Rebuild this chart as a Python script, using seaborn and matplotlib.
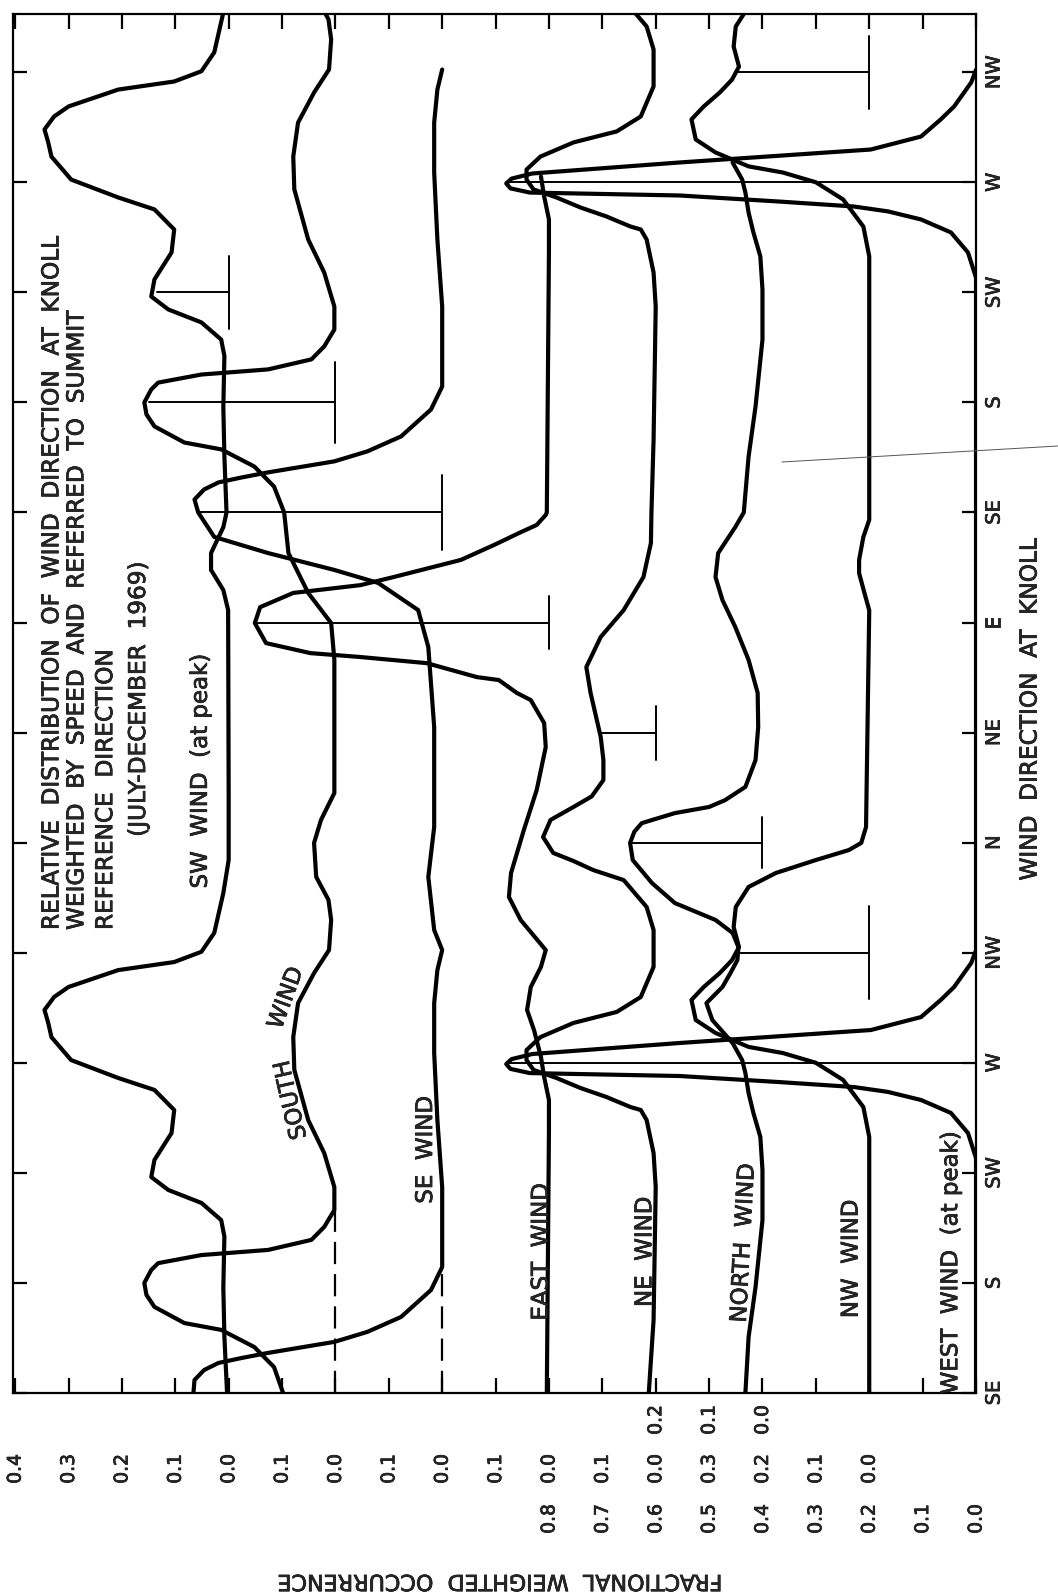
import numpy as np
import pandas as pd
import matplotlib
matplotlib.use("Agg")
import matplotlib.pyplot as plt
import matplotlib.patheffects as pe
import seaborn as sns
from matplotlib.lines import Line2D

# ------------------------------------------------------------------ data
DIR_TICKS = [135, 180, 225, 270, 315, 360, 405, 450, 495, 540, 585, 630, 675]
DIR_LABELS = ["SE", "S", "SW", "W", "NW", "N", "NE", "E", "SE", "S", "SW", "W", "NW"]

CURVES = ["WEST", "NW", "NORTH", "NE", "EAST", "SE", "SOUTH", "SW"]
OFFSETS = [0.0, 0.2, 0.4, 0.6, 0.8, 1.0, 1.2, 1.4]          # zero line of each curve
SCALE_MAX = [0.8, 0.3, 0.2, 0.1, 0.1, 0.1, 0.1, 0.4]        # labelled scale of each curve
SCALE_ROW = [2, 1, 0, 1, 1, 1, 1, 1]                        # row of its tick labels
PEAK_VALUES = [0.88, 0.25, 0.248, 0.107, 0.55, 0.46, 0.35, 0.135]
END_DIRS = [720, 720, 639, 720, 634, 677, 720, 720]         # where the repeated cycle stops

# one revolution of each curve (direction in degrees, fractional weighted occurrence)
west_dir = [135, 231, 241.3, 249.5, 254.8, 258.1, 260.1, 262.1, 264.6, 265.8, 267.5, 269.5,
            271.5, 273.6, 278.1, 283.4, 288.7, 295.7, 301.0, 310.8, 316.0, 495]
west_val = [0.0, 0.0, 0.015, 0.047, 0.103, 0.165, 0.229, 0.367, 0.555, 0.836, 0.872, 0.880,
            0.870, 0.831, 0.555, 0.197, 0.103, 0.066, 0.041, 0.009, 0.0, 0.0]

nw_dir = [135, 239.7, 251.9, 263.0, 270.0, 274.0, 276.5, 282.2, 287.5, 295.7, 301.0, 306.7,
          312.0, 317.3, 325.5, 333.7, 341.9, 347.6, 352.9, 357.0, 359.9, 366.4, 455.0, 462.1,
          470.2, 475.6, 485.0, 492.0, 495]
nw_val = [0.0, 0.0, 0.011, 0.049, 0.100, 0.162, 0.226, 0.288, 0.325, 0.333, 0.310, 0.280,
          0.257, 0.244, 0.254, 0.250, 0.226, 0.175, 0.100, 0.038, 0.015, 0.006, 0.0, 0.009,
          0.019, 0.019, 0.011, 0.0, 0.0]

north_dir = [135, 157.9, 178.3, 205.7, 226.2, 239.7, 249.5, 257.6, 265.8, 271.1, 278.1, 287.5,
             294.4, 301.0, 306.7, 312.0, 317.3, 323.1, 328.4, 335.3, 343.5, 352.9, 359.9, 364.5,
             368.0, 372.1, 374.6, 377.4, 382.8, 393.8, 407.3, 421.2, 434.7, 448.2, 459.2, 468.6,
             478.4, 489.0, 495]
north_val = [0.032, 0.026, 0.013, 0.0, 0.0, 0.004, 0.017, 0.026, 0.032, 0.038, 0.056, 0.094,
             0.105, 0.075, 0.060, 0.047, 0.045, 0.056, 0.088, 0.164, 0.207, 0.243, 0.248, 0.240,
             0.226, 0.164, 0.100, 0.070, 0.032, 0.013, 0.008, 0.009, 0.026, 0.051, 0.075, 0.088,
             0.083, 0.051, 0.035]

ne_dir = [135, 164.8, 219.2, 233.1, 246.6, 250.7, 251.9, 254.8, 256.0, 259.7, 263.8, 267.1,
          271.1, 275.2, 280.5, 286.3, 290.8, 296.9, 309.2, 324.3, 333.7, 344.7, 348.8, 352.5,
          355.8, 362.3, 369.3, 374.6, 378.9, 385.6, 393.8, 403.2, 421.2, 431.8, 444.1, 455.1,
          468.6, 482.5, 495]
ne_val = [0.013, 0.004, 0.0, 0.004, 0.017, 0.028, 0.047, 0.079, 0.092, 0.141, 0.186, 0.229,
          0.242, 0.242, 0.216, 0.154, 0.073, 0.028, 0.004, 0.004, 0.017, 0.060, 0.117, 0.154,
          0.192, 0.211, 0.197, 0.154, 0.120, 0.098, 0.098, 0.103, 0.122, 0.130, 0.103, 0.060,
          0.023, 0.009, 0.008]

east_dir = [135, 242.5, 254.8, 264.2, 272.4, 283.4, 291.6, 301.0, 309.2, 316.1, 328.4, 337.8,
            347.6, 365.2, 381.5, 399.1, 408.9, 418.3, 421.2, 426.5, 427.7, 433.4, 435.9, 437.5,
            441.6, 449.8, 456.3, 462.1, 465.3, 468.6, 475.6, 481.7, 486.6, 489.9, 494.0, 495]
east_val = [0.004, 0.0, 0.0, 0.009, 0.015, 0.028, 0.041, 0.034, 0.015, 0.006, 0.053, 0.075,
            0.071, 0.047, 0.023, 0.006, 0.009, 0.034, 0.060, 0.094, 0.135, 0.229, 0.353, 0.447,
            0.530, 0.551, 0.541, 0.479, 0.353, 0.291, 0.165, 0.103, 0.056, 0.023, 0.006, 0.004]

se_dir = [135, 140.3, 144.4, 147.3, 149.3, 151.4, 155.9, 160.0, 166.1, 177.1, 186.5, 219.2,
          246.6, 274.0, 294.4, 307.9, 316.1, 324.3, 346.0, 366.4, 407.3, 440.0, 455.1, 466.2,
          471.5, 478.4, 485.0, 495]
se_val = [0.466, 0.464, 0.446, 0.419, 0.376, 0.326, 0.202, 0.140, 0.077, 0.021, 0.0, 0.0,
          0.009, 0.015, 0.015, 0.009, 0.0, 0.015, 0.026, 0.015, 0.015, 0.026, 0.045, 0.120,
          0.202, 0.326, 0.427, 0.457]

south_dir = [135, 145.6, 153.8, 160.8, 163.6, 170.2, 175.1, 180.0, 185.3, 188.1, 191.4, 193.5,
             197.6, 202.9, 209.8, 219.2, 233.1, 246.6, 267.1, 280.5, 294.4, 306.7, 316.1, 328.4,
             336.6, 346.0, 359.9, 369.3, 380.3, 434.7, 449.8, 462.1, 478.4, 495]
south_val = [0.098, 0.115, 0.152, 0.214, 0.283, 0.339, 0.354, 0.358, 0.345, 0.332, 0.251, 0.126,
             0.045, 0.021, 0.002, 0.002, 0.021, 0.051, 0.077, 0.079, 0.070, 0.040, 0.012, 0.008,
             0.013, 0.036, 0.040, 0.027, 0.002, 0.002, 0.008, 0.051, 0.088, 0.096]

sw_dir = [135, 158, 178, 199, 205.7, 212.7, 218.0, 223.3, 230.3, 241.3, 250.7, 258.9, 263.8,
          271.1, 280.5, 286.3, 291.6, 296.9, 301.0, 307.9, 311.2, 315.4, 323.1, 339.4, 352.9,
          380.3, 455.1, 463.3, 471.5, 478.4, 489.0, 495]
sw_val = [0.003, 0.008, 0.010, 0.008, 0.014, 0.051, 0.113, 0.145, 0.139, 0.107, 0.102, 0.139,
          0.207, 0.295, 0.332, 0.338, 0.345, 0.327, 0.300, 0.207, 0.102, 0.051, 0.027, 0.010,
          0.0, 0.0, 0.001, 0.010, 0.033, 0.033, 0.010, 0.004]

SERIES = {"WEST": (west_dir, west_val), "NW": (nw_dir, nw_val), "NORTH": (north_dir, north_val),
          "NE": (ne_dir, ne_val), "EAST": (east_dir, east_val), "SE": (se_dir, se_val),
          "SOUTH": (south_dir, south_val), "SW": (sw_dir, sw_val)}

# peak markers: (curve, direction, half length of the cap in degrees)
MARKERS = [("WEST", 270, 0), ("WEST", 630, 0), ("NW", 315, 19), ("NW", 675, 15),
           ("NORTH", 360, 10.5), ("NE", 405, 11), ("EAST", 450, 11), ("SE", 495, 15.5),
           ("SOUTH", 540, 16.5), ("SW", 585, 15)]
DASHED = [("SOUTH", 135, 210), ("SE", 135, 184)]

TITLE_LINES = ["RELATIVE  DISTRIBUTION  OF  WIND  DIRECTION  AT  KNOLL",
               "WEIGHTED  BY  SPEED  AND  REFERRED  TO  SUMMIT",
               "REFERENCE  DIRECTION",
               "(JULY-DECEMBER  1969)"]
TITLE_POS = [(1.7312, 324.3), (1.6845, 324.3), (1.6304, 324.3), (1.5688, 362.4)]

CURVE_LABELS = [("SW  WIND  (at peak)", 1.4531, 389.2, 90),
                ("SOUTH", 1.2832, 254.8, 103),
                ("WIND", 1.2926, 296.5, 70),
                ("SE  WIND", 1.0312, 234.4, 90),
                ("EAST  WIND", 0.8147, 192.7, 90),
                ("NE  WIND", 0.6205, 192.7, 90),
                ("NORTH  WIND", 0.4357, 196.3, 87),
                ("NW  WIND", 0.2341, 189.8, 90),
                ("WEST  WIND  (at peak)", 0.0474, 188.2, 90)]

# ------------------------------------------------------------------ figure
sns.set_style("ticks")
plt.rcParams["font.family"] = ["DejaVu Sans"]
plt.rcParams["axes.linewidth"] = 1.6
plt.rcParams["lines.solid_joinstyle"] = "round"
plt.rcParams["lines.solid_capstyle"] = "round"

INK = [pe.withStroke(linewidth=0.5, foreground="black")]

W, H = 1058, 1595
fig = plt.figure(figsize=(W / 100, H / 100), dpi=100, facecolor="white")
ax = fig.add_axes([13 / W, (H - 1393) / H, 963 / W, 1379 / H])
ax.set_facecolor("white")

for name, off, end in zip(CURVES, OFFSETS, END_DIRS):
    d, v = SERIES[name]
    d = np.asarray(d, float)
    v = np.asarray(v, float)
    dd = np.concatenate([d, d[1:] + 360.0])
    vv = np.concatenate([v, v[1:]])
    keep = dd <= end
    df = pd.DataFrame({"direction": dd[keep], "position": off + vv[keep]})
    sns.lineplot(data=df, x="position", y="direction", orient="y", sort=False,
                 estimator=None, color="black", linewidth=3.0, ax=ax)
for ln in ax.get_lines():
    ln.set_solid_joinstyle("round")
    ln.set_solid_capstyle("round")

for name, dmark, cap in MARKERS:
    i = CURVES.index(name)
    off, pk = OFFSETS[i], PEAK_VALUES[i]
    ax.plot([off + pk, off], [dmark, dmark], color="black", lw=1.4)
    if cap > 0:
        ax.plot([off, off], [dmark - cap, dmark + cap], color="black", lw=1.4)

for name, d0, d1 in DASHED:
    off = OFFSETS[CURVES.index(name)]
    ax.plot([off, off], [d0, d1], color="black", lw=1.6, linestyle=(0, (10, 4.5)))

ax.set_xlim(1.804, 0.0063)
ax.set_ylim(135, 698.8)

ax.set_xticks(np.round(np.arange(0, 1.81, 0.1), 2))
ax.set_yticks(DIR_TICKS)
ax.set_yticklabels(DIR_LABELS)
ax.tick_params(axis="x", direction="in", top=True, bottom=True, labelbottom=False,
               length=11, width=1.6, color="black")
ax.tick_params(axis="y", direction="in", left=True, right=True, labelleft=False,
               labelright=True, length=10, width=1.6, pad=13, labelsize=14, color="black")
for lab in ax.get_yticklabels():
    lab.set_rotation(90)
    lab.set_ha("center")
    lab.set_va("center")
    lab.set_path_effects(INK)
for sp in ax.spines.values():
    sp.set_visible(True)
    sp.set_color("black")
    sp.set_linewidth(1.6)

# scale labels of every curve below the frame
tr = ax.get_xaxis_transform()
ROW_Y = [-0.0196, -0.0551, -0.0914]
for name, off, smax, row in zip(CURVES, OFFSETS, SCALE_MAX, SCALE_ROW):
    n = int(round(smax * 10))
    for k in range(n + 1):
        ax.text(off + k * 0.1, ROW_Y[row], f"{k / 10:.1f}", transform=tr, rotation=90,
                ha="center", va="center", fontsize=13.5, clip_on=False, path_effects=INK)

ax.set_xlabel("FRACTIONAL  WEIGHTED  OCCURRENCE", fontsize=16, rotation=180,
              ha="center", va="center", path_effects=INK)
ax.xaxis.set_label_coords(0.5057, -0.1363)
ax.yaxis.set_label_position("right")
ax.set_ylabel("WIND  DIRECTION  AT  KNOLL", fontsize=16.7, rotation=90,
              ha="center", va="center", path_effects=INK)
ax.yaxis.set_label_coords(1.0561, 0.4953)

for line, (tx, ty) in zip(TITLE_LINES, TITLE_POS):
    ax.text(tx, ty, line, rotation=90, rotation_mode="anchor", ha="left", va="center",
            fontsize=16.7, path_effects=INK)

for text, tx, ty, rot in CURVE_LABELS:
    ax.text(tx, ty, text, rotation=rot, rotation_mode="anchor", ha="center", va="center",
            fontsize=16.5, path_effects=INK)

fig.add_artist(Line2D([782 / W, 1.0], [1 - 462 / H, 1 - 446 / H], lw=0.7, color="#555555"))

fig.savefig("out.png", dpi=100, facecolor="white")
